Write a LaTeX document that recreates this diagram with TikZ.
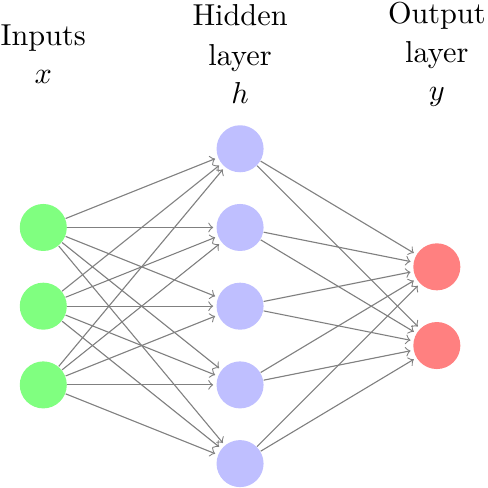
\documentclass[tikz,border=0pt]{standalone}
\begin{document}
\begin{tikzpicture}[
  neuron/.style={circle,fill=black!25,minimum size=17pt,inner sep=0pt},
  input neuron/.style={neuron,fill=green!50},
  hidden neuron/.style={neuron,fill=blue!25},
  output neuron/.style={neuron,fill=red!50},
  conn/.style={->,draw=black!50,shorten >=1pt},
  lbl/.style={anchor=base,inner sep=0pt,font=\fontsize{10.95}{13.6}\selectfont}
]
\useasboundingbox (-0.55,-5.31) rectangle (5.65,0.89);
\foreach \i in {1,2,3}
  \node[input neuron] (I-\i) at (0,{-\i-1}) {};
\foreach \i in {1,...,5}
  \node[hidden neuron] (H-\i) at (2.5,-\i) {};
\foreach \i in {1,2}
  \node[output neuron] (O-\i) at (5,{-\i-1.5}) {};
\foreach \s in {1,2,3}
  \foreach \d in {1,...,5}
    \draw[conn] (I-\s) -- (H-\d);
\foreach \s in {1,...,5}
  \foreach \d in {1,2}
    \draw[conn] (H-\s) -- (O-\d);
\node[lbl] (in1) at (0,0.318) {Inputs};
\node[lbl] (in2) at (0,-0.177) {$x$};
\node[lbl] (hl1) at (2.5,0.572) {Hidden};
\node[lbl] (hl2) at (2.5,0.064) {layer};
\node[lbl] (hl3) at (2.5,-0.431) {$h$};
\node[lbl] (ol1) at (5,0.597) {Output};
\node[lbl] (ol2) at (5,0.102) {layer};
\node[lbl] (ol3) at (5,-0.381) {$y$};
\end{tikzpicture}
\end{document}
